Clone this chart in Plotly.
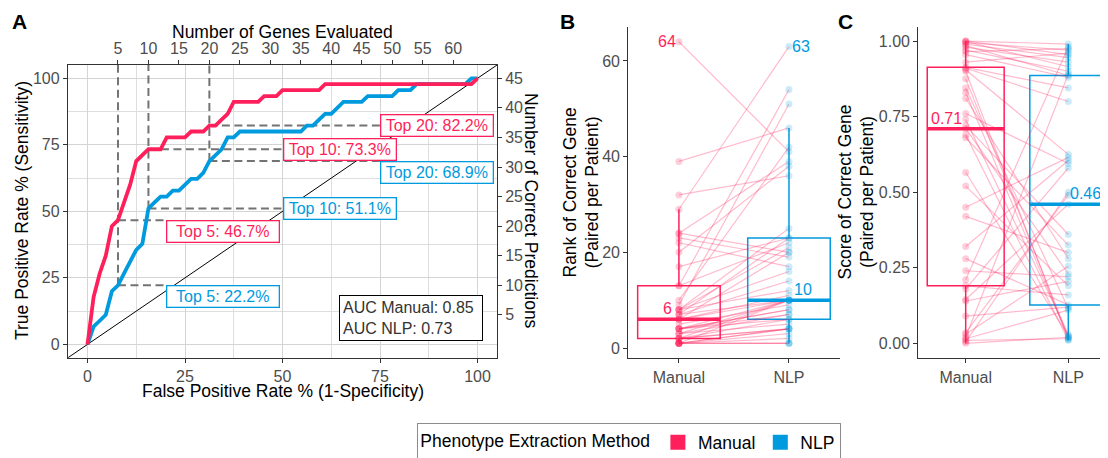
import numpy as np
import plotly.graph_objects as go

# ------------------------------------------------------------------ data
methods = ["Manual", "NLP"]
colors = {"Manual": "#FF1F5B", "NLP": "#009ADE"}
n_genes = 64
n_patients = 45

# rank of the correct gene per patient (paired, same patient order)
rank_manual = [64, 39, 32, 29, 24, 24, 23, 22, 20, 17, 13, 13, 10, 9, 8, 8, 8, 8, 7, 7, 7,
               6, 6, 6, 5, 4, 4, 4, 4, 4, 3, 3, 3, 2, 2, 2, 2, 1, 1, 1, 1, 1, 1, 1, 1]
rank_nlp = [41, 46, 36, 63, 20, 39, 19, 17, 38, 23, 54, 22, 42, 51, 25, 21, 16, 12, 23, 14, 10,
            20, 11, 10, 9, 10, 8, 8, 7, 6, 10, 7, 5, 10, 6, 4, 4, 10, 4, 4, 3, 2, 1, 1, 1]

# score of the correct gene per patient (paired)
score_manual = [0.00, 0.005, 0.01, 0.015, 0.02, 0.03, 0.035, 0.09, 0.14, 0.145, 0.18, 0.19,
                0.21, 0.24, 0.28, 0.32, 0.42, 0.45, 0.52, 0.565, 0.68, 0.69, 0.71, 0.72, 0.74,
                0.76, 0.81, 0.83, 0.845, 0.875, 0.90, 0.905, 0.91, 0.913, 0.93, 0.955, 0.965,
                0.97, 0.98, 0.985, 0.99, 0.995, 0.998, 1.0, 1.0]
score_nlp = [0.02, 0.50, 0.015, 0.11, 0.89, 0.255, 0.49, 0.12, 0.205, 0.46, 0.58, 0.16, 0.98,
             0.22, 0.127, 0.605, 0.30, 0.615, 0.19, 0.025, 0.325, 0.01, 0.23, 0.36, 0.03,
             0.595, 0.28, 0.018, 0.115, 0.022, 0.012, 0.625, 0.80, 0.845, 0.96, 0.88, 0.975,
             0.90, 0.93, 0.886, 0.945, 0.97, 0.915, 0.99, 0.955]

top_n = [5, 10, 20]
label_x = [20, 50, 75]
label_anchor = {"Manual": ["top", "middle", "middle"], "NLP": ["top", "middle", "top"]}
auc_values = {"Manual": 0.85, "NLP": 0.73}

ranks = {"Manual": rank_manual, "NLP": rank_nlp}
scores = {"Manual": score_manual, "NLP": score_nlp}

# ------------------------------------------------------------------ layout helpers
# page body has an 8px margin, so the figure is 8px smaller than the window
OFF = 8
W, H = 1108 - OFF, 458 - OFF
def PX(p):
    return (p - OFF) / W
def PY(p):
    return 1 - (p - OFF) / H

FONT = "Liberation Sans, Arial, sans-serif"
TICK = dict(family=FONT, size=16, color="#4D4D4D")
TITLE = dict(family=FONT, size=17.5, color="black")
AXC = "#333333"

fig = go.Figure()

# ------------------------------------------------------------------ panel A
genes = np.arange(0, n_genes + 1)
cum = {m: np.array([(np.array(ranks[m]) <= g).sum() for g in genes]) for m in methods}
pct_at = {m: [cum[m][n] / n_patients * 100 for n in top_n] for m in methods}

# diagonal
fig.add_trace(go.Scatter(x=[-5, 105], y=[-5, 105], mode="lines",
                         line=dict(color="black", width=1), xaxis="x", yaxis="y",
                         showlegend=False, hoverinfo="skip"))
# dashed guides
YTOP = 105
for i, n in enumerate(top_n):
    xp = n / n_genes * 100
    low = min(pct_at["Manual"][i], pct_at["NLP"][i])
    fig.add_trace(go.Scatter(x=[xp, xp], y=[low, YTOP], mode="lines",
                             line=dict(color="#737373", width=2, dash="8px,4.5px"),
                             xaxis="x", yaxis="y", showlegend=False, hoverinfo="skip"))
    for m in methods:
        fig.add_trace(go.Scatter(x=[xp, label_x[i]], y=[pct_at[m][i]] * 2, mode="lines",
                                 line=dict(color="#737373", width=2, dash="8px,4.5px"),
                                 xaxis="x", yaxis="y", showlegend=False, hoverinfo="skip"))
# ROC-like curves in genes / correct predictions (top & right axes)
for m in ["NLP", "Manual"]:
    fig.add_trace(go.Scatter(x=genes, y=cum[m], mode="lines",
                             line=dict(color=colors[m], width=3.8),
                             xaxis="x2", yaxis="y2", showlegend=False, hoverinfo="skip"))

annotations = []
for m in methods:
    for i, n in enumerate(top_n):
        annotations.append(dict(
            x=label_x[i], y=pct_at[m][i], xref="x", yref="y", xanchor="left",
            yanchor=label_anchor[m][i], text=f"Top {n}: {pct_at[m][i]:.1f}%", showarrow=False,
            font=dict(family=FONT, size=16, color=colors[m]), bgcolor="white",
            bordercolor=colors[m], borderwidth=1.3, borderpad=1, width=109, height=18))
annotations.append(dict(
    x=101.5, y=1.3, xref="x", yref="y", xanchor="right", yanchor="bottom", align="left",
    text="<br>".join(f"AUC {m}: {auc_values[m]:.2f}" for m in methods), showarrow=False,
    font=dict(family=FONT, size=16, color="#333333"), bgcolor="white",
    bordercolor="black", borderwidth=1, borderpad=3, width=136))

# ------------------------------------------------------------------ panels B and C
def paired_panel(data, xa, ya):
    xs, ys = [], []
    for a, b in zip(data["Manual"], data["NLP"]):
        xs += [1, 2, None]
        ys += [a, b, None]
    fig.add_trace(go.Scatter(x=xs, y=ys, mode="lines",
                             line=dict(color="rgba(255,31,91,0.3)", width=1.2),
                             xaxis=xa, yaxis=ya, showlegend=False, hoverinfo="skip"))
    for k, m in enumerate(methods):
        rgba = "rgba(255,31,91,0.22)" if m == "Manual" else "rgba(0,154,222,0.2)"
        fig.add_trace(go.Scatter(x=[k + 1] * len(data[m]), y=data[m], mode="markers",
                                 marker=dict(color=rgba, size=7),
                                 xaxis=xa, yaxis=ya, showlegend=False, hoverinfo="skip"))
    for k, m in enumerate(methods):
        fig.add_trace(go.Box(y=data[m], x0=k + 1, width=0.75, boxpoints="outliers",
                             marker=dict(opacity=0, size=1),
                             whiskerwidth=0, quartilemethod="inclusive",
                             fillcolor="rgba(0,0,0,0)", line=dict(color=colors[m], width=1.5),
                             xaxis=xa, yaxis=ya, showlegend=False, hoverinfo="skip"))
        med = float(np.median(data[m]))
        fig.add_trace(go.Scatter(x=[k + 1 - 0.375, k + 1 + 0.375], y=[med, med], mode="lines",
                                 line=dict(color=colors[m], width=3.5),
                                 xaxis=xa, yaxis=ya, showlegend=False, hoverinfo="skip"))

paired_panel(ranks, "x3", "y3")
paired_panel(scores, "x4", "y4")

for k, m in enumerate(methods):
    side = dict(xanchor="right", xshift=-5) if m == "Manual" else dict(xanchor="left", xshift=3)
    med = float(np.median(ranks[m]))
    annotations.append(dict(x=k + 1, y=med, xref="x3", yref="y3", yanchor="bottom",
                            text=f"{med:.0f}", showarrow=False,
                            font=dict(family=FONT, size=16, color=colors[m]), **side))
    mx = max(ranks[m])
    side2 = dict(xanchor="right", xshift=-1) if m == "Manual" else dict(xanchor="left", xshift=1)
    annotations.append(dict(x=k + 1, y=mx, xref="x3", yref="y3", yanchor="middle",
                            text=f"{mx}", showarrow=False,
                            font=dict(family=FONT, size=16, color=colors[m]), **side2))
    meds = float(np.median(scores[m]))
    side3 = dict(xanchor="right", xshift=-2) if m == "Manual" else dict(xanchor="left", xshift=0)
    annotations.append(dict(x=k + 1, y=meds, xref="x4", yref="y4", yanchor="bottom",
                            text=f"{meds:.2f}", showarrow=False,
                            font=dict(family=FONT, size=16, color=colors[m]), **side3))

# legend swatches
for m in methods:
    fig.add_trace(go.Scatter(x=[None], y=[None], mode="markers", name=m,
                             marker=dict(symbol="square", size=15, color=colors[m]),
                             xaxis="x3", yaxis="y3", showlegend=True))

# ------------------------------------------------------------------ titles / letters
def ann(text, x, y, angle=0, font=TITLE):
    annotations.append(dict(text=text, x=PX(x), y=PY(y), xref="paper", yref="paper",
                            xanchor="center", yanchor="middle", textangle=angle,
                            showarrow=False, font=font))

ann("True Positive Rate % (Sensitivity)", 22, 211, -90)
ann("False Positive Rate % (1-Specificity)", 282.5, 391)
ann("Number of Genes Evaluated", 282.5, 32)
ann("Number of Correct Predictions", 531, 211, 90)
ann("Rank of Correct Gene<br>(Paired per Patient)", 581, 192.5, -90)
ann("Score of Correct Gene<br>(Paired per Patient)", 856, 192.5, -90)
BOLD = dict(family=FONT, size=21, color="black")
ann("<b>A</b>", 19, 22, 0, BOLD)
ann("<b>B</b>", 568, 22, 0, BOLD)
ann("<b>C</b>", 845, 22, 0, BOLD)

# ------------------------------------------------------------------ axes
base = dict(zeroline=False, ticks="outside", ticklen=4, tickcolor=AXC, tickwidth=1.1,
            tickfont=TICK, showline=True, linecolor=AXC, linewidth=1.3, automargin=False)
domA_x = [PX(68), PX(497)]
domA_y = [PY(357.7), PY(65)]
domBC_y = [PY(358.3), PY(26.7)]

fig.update_layout(
    width=W, height=H, margin=dict(l=0, r=0, t=0, b=0, autoexpand=False),
    paper_bgcolor="white", plot_bgcolor="white",
    font=dict(family=FONT),
    xaxis=dict(base, domain=domA_x, anchor="y", range=[-5, 105], tickvals=[0, 25, 50, 75, 100],
               showgrid=True, gridcolor="#d4d4d4", gridwidth=1.2, mirror=True,
               minor=dict(tickvals=[12.5, 37.5, 62.5, 87.5], showgrid=True,
                          gridcolor="#dedede", gridwidth=1)),
    yaxis=dict(base, domain=domA_y, anchor="x", range=[-5, 105], tickvals=[0, 25, 50, 75, 100],
               showgrid=True, gridcolor="#d4d4d4", gridwidth=1.2, mirror=True,
               minor=dict(tickvals=[12.5, 37.5, 62.5, 87.5], showgrid=True,
                          gridcolor="#dedede", gridwidth=1)),
    xaxis2=dict(base, overlaying="x", anchor="y", side="top", showline=False, showgrid=False,
                range=[-5 / 100 * n_genes, 105 / 100 * n_genes], tickvals=list(range(5, 61, 5))),
    yaxis2=dict(base, overlaying="y", anchor="x", side="right", showline=False, showgrid=False,
                range=[-5 / 100 * n_patients, 105 / 100 * n_patients],
                tickvals=list(range(5, 46, 5))),
    xaxis3=dict(base, domain=[PX(628.3), PX(839.6)], anchor="y3", range=[0.54, 2.46],
                tickvals=[1, 2], ticktext=methods, showgrid=False),
    yaxis3=dict(base, domain=domBC_y, anchor="x3", range=[-2.15, 67.15],
                tickvals=[0, 20, 40, 60], showgrid=False),
    xaxis4=dict(base, domain=[PX(918.3), 1.0], anchor="y4", range=[0.538, 2.387],
                tickvals=[1, 2], ticktext=methods, showgrid=False),
    yaxis4=dict(base, domain=domBC_y, anchor="x4", range=[-0.0496, 1.0474],
                tickvals=[0, 0.25, 0.5, 0.75, 1.0], tickformat=".2f", showgrid=False),
    legend=dict(orientation="h", x=PX(417), y=PY(423), xanchor="left", yanchor="top",
                bordercolor="#8c8c8c", borderwidth=1.3, bgcolor="white",
                entrywidth=0, itemwidth=30,
                font=dict(family=FONT, size=17.5, color="black"),
                title=dict(text="Phenotype Extraction Method", side="left",
                           font=dict(family=FONT, size=17.5, color="black"))),
    annotations=annotations,
)

fig.write_html("out.html")
